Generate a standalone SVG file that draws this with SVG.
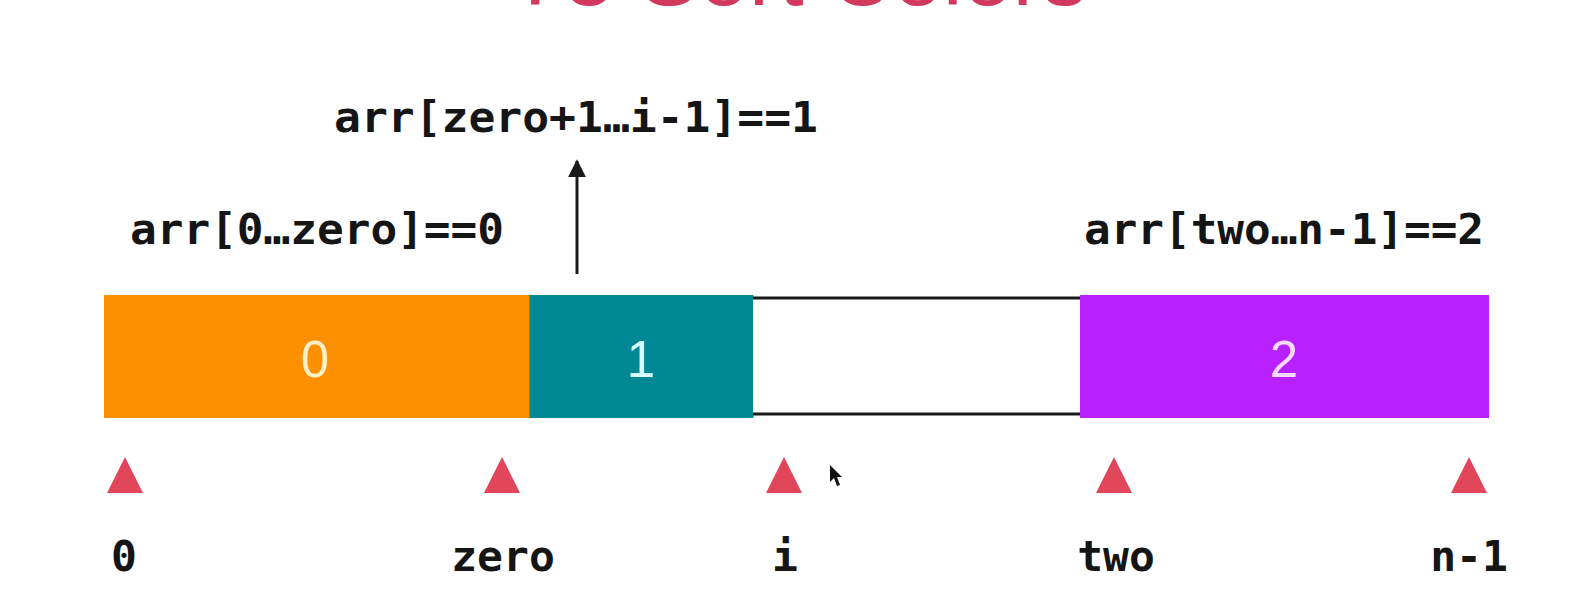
<svg xmlns="http://www.w3.org/2000/svg" width="1578" height="612" viewBox="0 0 1578 612">
  <defs>
    <style>
      .mono { font-family: "DejaVu Sans Mono", "Liberation Mono", monospace; font-weight: bold; font-size: 43px; fill: #151515; }
      .num { font-family: "Liberation Sans", Arial, sans-serif; font-size: 51px; text-anchor: middle; }
      .tri { fill: #E2465A; }
      .title { font-family: "Liberation Sans", Arial, sans-serif; font-size: 89px; fill: #D3385E; }
      .edge { stroke: #1a1a1a; stroke-width: 3; fill: none; }
    </style>
    <marker id="ah" viewBox="0 0 10 10" refX="9" refY="5" markerWidth="6" markerHeight="6" orient="auto" markerUnits="strokeWidth">
      <path d="M0,0 L10,5 L0,10 z" fill="#1a1a1a"/>
    </marker>
  </defs>
  <rect width="1578" height="612" fill="#ffffff"/>

  <g id="title">
    <text class="title" x="515" y="5" textLength="572" lengthAdjust="spacingAndGlyphs">75 Sort Colors</text>
  </g>

  <g id="label-ones">
    <text class="mono" x="334" y="132" textLength="484" lengthAdjust="spacingAndGlyphs">arr[zero+1…i-1]==1</text>
  </g>
  <g id="label-zeros">
    <text class="mono" x="130" y="244" textLength="374" lengthAdjust="spacingAndGlyphs">arr[0…zero]==0</text>
  </g>
  <g id="label-twos">
    <text class="mono" x="1084" y="244" textLength="400" lengthAdjust="spacingAndGlyphs">arr[two…n-1]==2</text>
  </g>

  <g id="seg-zero">
    <rect x="104" y="295" width="426" height="123" fill="#FD9000"/>
    <text class="num" x="315" y="377" fill="#FFF0C8">0</text>
  </g>
  <g id="seg-one">
    <rect x="529.5" y="295" width="224" height="123" fill="#008895"/>
    <text class="num" x="641" y="377" fill="#D8FBFF">1</text>
  </g>
  <g id="seg-unknown">
    <rect x="753" y="298" width="327" height="116" fill="#ffffff"/>
    <line class="edge" x1="753" y1="298" x2="1081" y2="298"/>
    <line class="edge" x1="753" y1="414" x2="1081" y2="414"/>
  </g>
  <g id="seg-two">
    <rect x="1080" y="295" width="409" height="123" fill="#B820FF"/>
    <text class="num" x="1284" y="377" fill="#FAD8FF">2</text>
  </g>

  <g id="connectors">
    <line x1="577" y1="274" x2="577" y2="161" stroke="#1a1a1a" stroke-width="3" marker-end="url(#ah)"/>
  </g>

  <g id="ptr-0">
    <polygon class="tri" points="125,457 143,493 107,493"/>
    <text class="mono" x="124" y="571" text-anchor="middle">0</text>
  </g>
  <g id="ptr-zero">
    <polygon class="tri" points="502,457 520,493 484,493"/>
    <text class="mono" x="503" y="571" text-anchor="middle">zero</text>
  </g>
  <g id="ptr-i">
    <polygon class="tri" points="784,457 802,493 766,493"/>
    <text class="mono" x="785" y="571" text-anchor="middle">i</text>
  </g>
  <g id="ptr-two">
    <polygon class="tri" points="1114,457 1132,493 1096,493"/>
    <text class="mono" x="1116" y="571" text-anchor="middle">two</text>
  </g>
  <g id="ptr-n1">
    <polygon class="tri" points="1469,457 1487,493 1451,493"/>
    <text class="mono" x="1469" y="571" text-anchor="middle">n-1</text>
  </g>

  <polygon points="830,465 830,482 834,478 837,486 840,485 837,477 842,477" fill="#111111"/>
</svg>
